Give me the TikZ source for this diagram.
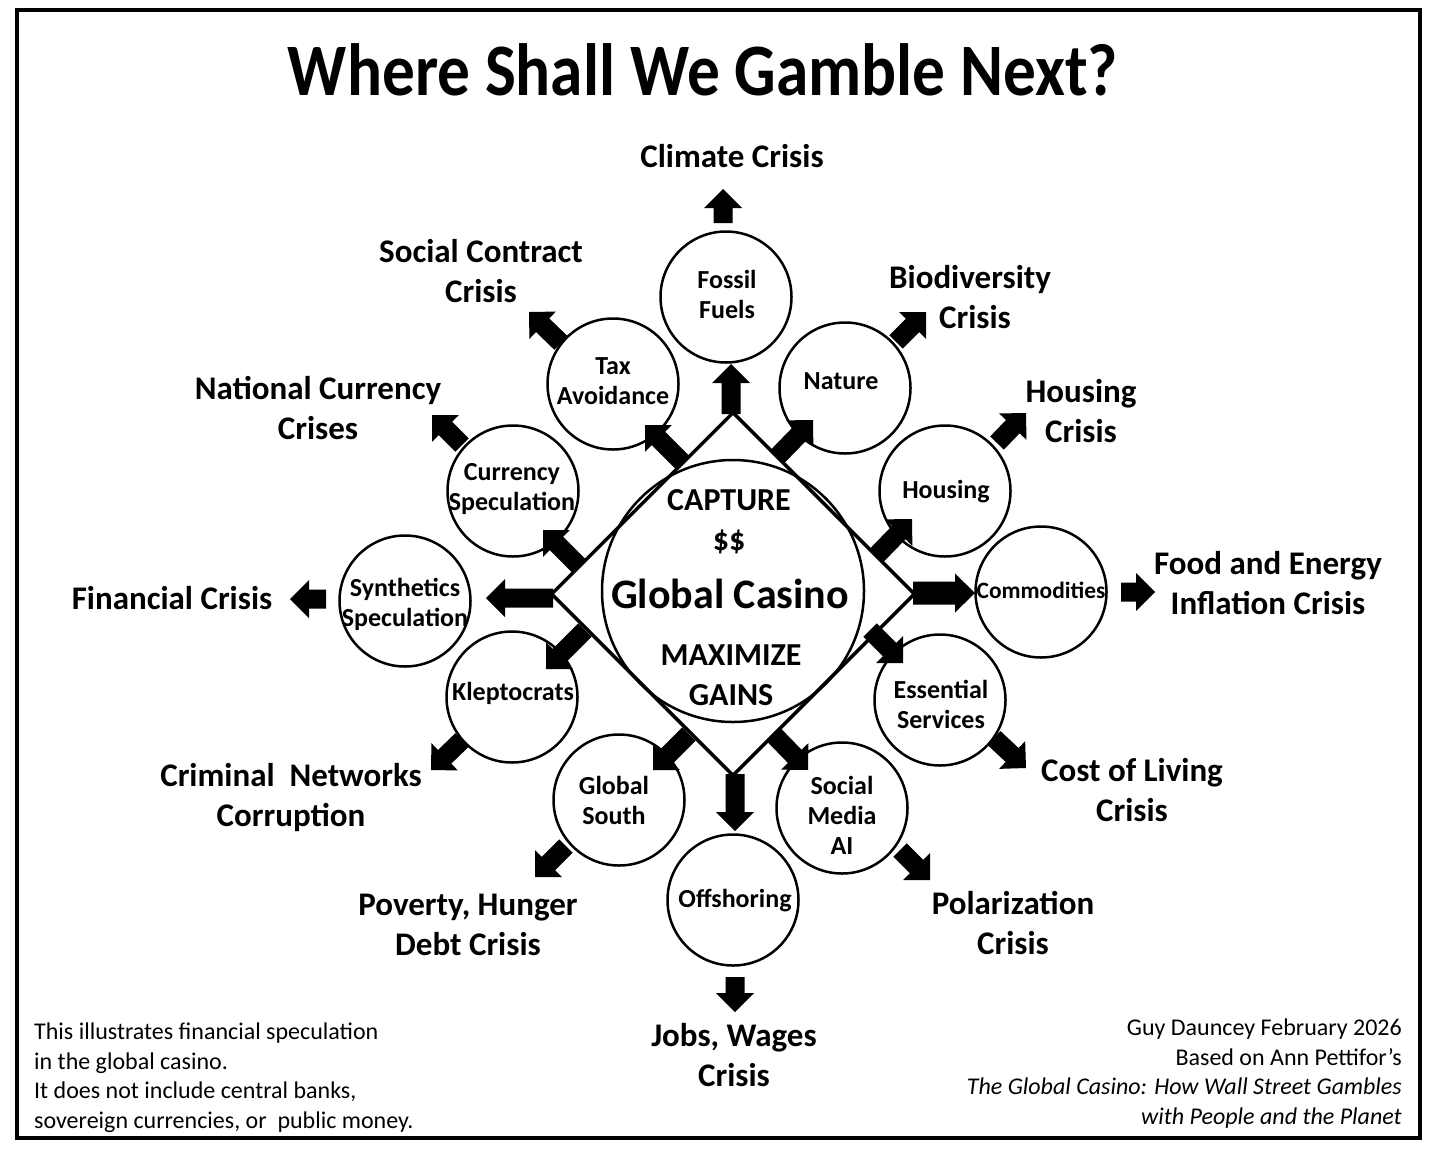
\documentclass[tikz,border=0pt]{standalone}
\usepackage{fontspec}
\setmainfont{Carlito}
\usepackage{graphicx}
\usetikzlibrary{calc,shapes.geometric}
% #1 tail, #2 tip, #3 half shaft width, #4 half head width, #5 head length
\newcommand{\blockarrowW}[5]{%
  \fill ($(#1)!#3!90:(#2)$) -- ($(#2)!#5!(#1)!#3!90:(#2)$) -- ($(#2)!#5!(#1)!#4!90:(#2)$) -- (#2) -- ($(#2)!#5!(#1)!#4!-90:(#2)$) -- ($(#2)!#5!(#1)!#3!-90:(#2)$) -- ($(#1)!#3!-90:(#2)$) -- cycle;}
\newcommand{\blockarrow}[2]{\blockarrowW{#1}{#2}{9.5pt}{19pt}{19pt}}
\begin{document}
\begin{tikzpicture}[x=1pt,y=-1pt,
  circ/.style={circle, draw, line width=2.5pt, minimum size=131pt, inner sep=0pt},
  clab/.style={font=\bfseries\fontsize{26}{30}\selectfont, align=center, inner sep=0pt, execute at begin node=\strut, execute at end node=\strut},
  crisis/.style={font=\bfseries\fontsize{33}{40}\selectfont, align=center, inner sep=0pt, execute at begin node=\strut, execute at end node=\strut},
  centre/.style={font=\bfseries\fontsize{32}{40}\selectfont, align=center, inner sep=0pt, execute at begin node=\strut, execute at end node=\strut},
  foot/.style={font=\fontsize{24}{29.7}\selectfont, inner sep=0pt, execute at begin node=\strut, execute at end node=\strut}]
\fill[white] (0,0) rectangle (1434,1154);
\useasboundingbox (0,0) rectangle (1434,1154);
\draw[line width=3.5pt] (17,10) rectangle (1420,1138);
% title
\node[anchor=base, inner sep=0pt, font=\bfseries\fontsize{74}{80}\selectfont] (title) at (703,95) {\resizebox{830pt}{\height}{Where Shall We Gamble Next?}};
% diamond and centre
\node[diamond, draw, line width=3.5pt, minimum width=364pt, minimum height=364pt, inner sep=0pt] (dia) at (733,594) {};
\node[circ, minimum size=262pt] (casino) at (733,591) {};
\node[centre] (capture) at (729,526) {CAPTURE\\\$\$};
\node[inner sep=0pt, font=\bfseries\fontsize{42}{50}\selectfont] (gc) at (730,594) {Global Casino};
\node[centre] (maxim) at (731,681) {MAXIMIZE\\GAINS};
% circles
\node[circ] (fossil) at (726,297) {};
\node[circ] (tax) at (613,384) {};
\node[circ] (nature) at (845,388) {};
\node[circ] (currency) at (513,491) {};
\node[circ] (synth) at (405,601) {};
\node[circ] (klepto) at (512,697) {};
\node[circ] (housing) at (945,491) {};
\node[circ] (commod) at (1041,592) {};
\node[circ] (essential) at (940,700) {};
\node[circ] (south) at (619,800) {};
\node[circ] (social) at (842,808) {};
\node[circ] (offshore) at (733,900) {};
% circle labels
\node[clab] (lfossil) at (727,299) {Fossil\\Fuels};
\node[clab] (ltax) at (613,386) {Tax\\Avoidance};
\node[clab] (lnature) at (841,383) {Nature};
\node[clab] (lcurrency) at (512,491) {Currency\\Speculation};
\node[clab] (lsynth) at (405,607) {Synthetics\\Speculation};
\node[clab] (lklepto) at (513,694) {Kleptocrats};
\node[clab] (lhousing) at (946,492) {Housing};
\node[clab, font=\bfseries\fontsize{23.4}{30}\selectfont] (lcommod) at (1041,592) {Commodities};
\node[clab] (lessential) at (941,709) {Essential\\Services};
\node[clab] (lsouth) at (614,805) {Global\\South};
\node[clab] (lsocial) at (842,820) {Social\\Media\\AI};
\node[clab] (loffshore) at (735,901) {Offshoring};
% crisis labels
\node[crisis] (climate) at (732,159) {Climate Crisis};
\node[crisis] (contract) at (481,277) {Social Contract\\Crisis};
\node[crisis] (bio) at (970,303) {Biodiversity\\\hspace*{0.3em}Crisis};
\node[crisis] (natcur) at (318,414) {National Currency\\Crises};
\node[crisis] (housingc) at (1081,417) {Housing\\Crisis};
\node[crisis] (fin) at (172,601) {Financial Crisis};
\node[crisis] (food) at (1268,589) {Food and Energy\\Inflation Crisis};
\node[crisis] (crim) at (291,801) {Criminal\ \ Networks\\Corruption};
\node[crisis] (cost) at (1132,796) {Cost of Living\\Crisis};
\node[crisis] (pov) at (468,931) {Poverty, Hunger\\Debt Crisis};
\node[crisis] (pol) at (1013,929) {Polarization\\Crisis};
\node[crisis] (jobs) at (734,1061) {Jobs, Wages\\Crisis};
% footers
\node[foot, anchor=west, align=left] (noteL) at (34,1080) {This illustrates financial speculation\\in the global casino.\\It does not include central banks,\\sovereign currencies, or\ \ public money.};
\node[foot, anchor=east, align=right] (noteR) at (1402,1076) {Guy Dauncey February 2026\\Based on Ann Pettifor’s\\\textit{The Global Casino: How Wall Street Gambles}\hspace*{0.4em}\\\textit{with People and the Planet}};
% arrow coordinates: inner
\coordinate (i1t) at (731,414); \coordinate (i1h) at (731,364);
\coordinate (i2t) at (683,463); \coordinate (i2h) at (645,425);
\coordinate (i3t) at (777,457); \coordinate (i3h) at (813,420);
\coordinate (i4t) at (580,567); \coordinate (i4h) at (543,530);
\coordinate (i5t) at (553,598); \coordinate (i5h) at (486,598);
\coordinate (i6t) at (585,630); \coordinate (i6h) at (546,669);
\coordinate (i7t) at (876,556); \coordinate (i7h) at (912,519);
\coordinate (i8t) at (913,593); \coordinate (i8h) at (975,593);
\coordinate (i9t) at (870,630); \coordinate (i9h) at (903,663);
\coordinate (i10t) at (689,734); \coordinate (i10h) at (653,770);
\coordinate (i11t) at (773,734); \coordinate (i11h) at (808,770);
\coordinate (i12t) at (735,774); \coordinate (i12h) at (735,831);
% outer
\coordinate (o1t) at (723,223); \coordinate (o1h) at (723,189);
\coordinate (o2t) at (561,343); \coordinate (o2h) at (529,312);
\coordinate (o3t) at (896,342); \coordinate (o3h) at (926,312);
\coordinate (o4t) at (462,445); \coordinate (o4h) at (432,415);
\coordinate (o5t) at (326,599); \coordinate (o5h) at (290,599);
\coordinate (o6t) at (462,740); \coordinate (o6h) at (431,770);
\coordinate (o7t) at (997,443); \coordinate (o7h) at (1026,413);
\coordinate (o8t) at (1121,592); \coordinate (o8h) at (1155,592);
\coordinate (o9t) at (994,738); \coordinate (o9h) at (1026,768);
\coordinate (o10t) at (566,846); \coordinate (o10h) at (535,877);
\coordinate (o11t) at (900,850); \coordinate (o11h) at (930,880);
\coordinate (o12t) at (735,977); \coordinate (o12h) at (735,1012);
\foreach \k in {1,...,7,9,10,11,12} {\blockarrow{i\k t}{i\k h}}
\blockarrowW{i8t}{i8h}{11.5pt}{19.5pt}{20pt}
\foreach \k in {1,...,12} {\blockarrow{o\k t}{o\k h}}
\end{tikzpicture}
\end{document}
